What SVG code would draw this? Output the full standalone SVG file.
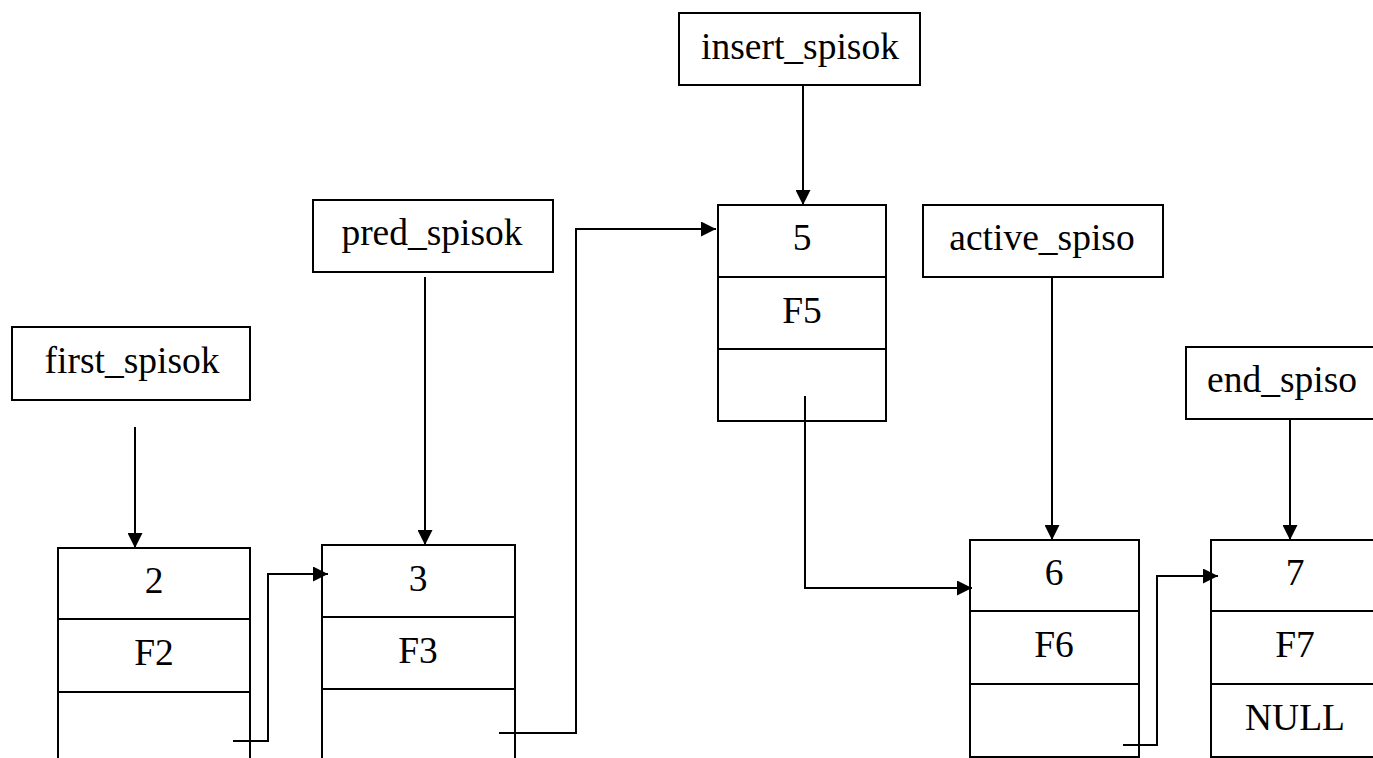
<svg xmlns="http://www.w3.org/2000/svg" width="1373" height="758" viewBox="0 0 1373 758">
<style>
.box{fill:#fff;stroke:#000;stroke-width:2}
.div{stroke:#000;stroke-width:2}
.t{font-family:"Liberation Serif","Times New Roman",serif;font-size:37.5px;fill:#000;text-anchor:middle}
.c{fill:none;stroke:#000;stroke-width:2}
</style>
<defs>
<marker id="ah" markerUnits="userSpaceOnUse" markerWidth="16" markerHeight="15" refX="15" refY="7.5" orient="auto">
<path d="M0,0 L15,7.5 L0,15 z" fill="#000"/>
</marker>
</defs>
<rect width="1373" height="758" fill="#fff"/>
<g id="first_spisok"><rect class="box" x="12" y="327" width="238" height="73"/><text class="t" x="132" y="373">first_spisok</text></g>
<g id="pred_spisok"><rect class="box" x="313" y="200" width="240" height="72"/><text class="t" x="432" y="245">pred_spisok</text></g>
<g id="insert_spisok"><rect class="box" x="679" y="13" width="241" height="72"/><text class="t" x="800" y="59">insert_spisok</text></g>
<g id="active_spiso"><rect class="box" x="923" y="205" width="240" height="72"/><text class="t" x="1042" y="250">active_spiso</text></g>
<g id="end_spiso"><rect class="box" x="1186" y="347" width="194" height="72"/><text class="t" x="1282" y="392">end_spiso</text></g>
<g id="node2"><rect class="box" x="58" y="548" width="192" height="230"/><line class="div" x1="58" y1="619" x2="250" y2="619"/><line class="div" x1="58" y1="692" x2="250" y2="692"/><text class="t" x="154" y="593">2</text><text class="t" x="154" y="665">F2</text></g>
<g id="node3"><rect class="box" x="322" y="545" width="193" height="230"/><line class="div" x1="322" y1="617" x2="515" y2="617"/><line class="div" x1="322" y1="689" x2="515" y2="689"/><text class="t" x="418" y="591">3</text><text class="t" x="418" y="663">F3</text></g>
<g id="node5"><rect class="box" x="718" y="205" width="168" height="216"/><line class="div" x1="718" y1="277" x2="886" y2="277"/><line class="div" x1="718" y1="349" x2="886" y2="349"/><text class="t" x="802" y="250">5</text><text class="t" x="802" y="323">F5</text></g>
<g id="node6"><rect class="box" x="970" y="540" width="169" height="217"/><line class="div" x1="970" y1="611" x2="1139" y2="611"/><line class="div" x1="970" y1="684" x2="1139" y2="684"/><text class="t" x="1054" y="585">6</text><text class="t" x="1054" y="657">F6</text></g>
<g id="node7"><rect class="box" x="1211" y="540" width="169" height="217"/><line class="div" x1="1211" y1="611" x2="1380" y2="611"/><line class="div" x1="1211" y1="684" x2="1380" y2="684"/><text class="t" x="1295" y="585">7</text><text class="t" x="1295" y="657">F7</text><text class="t" x="1295" y="730">NULL</text></g>
<g id="connectors">
<path class="c" d="M135,427 V548" marker-end="url(#ah)"/>
<path class="c" d="M425,277 V545" marker-end="url(#ah)"/>
<path class="c" d="M803,85 V205" marker-end="url(#ah)"/>
<path class="c" d="M1052,277 V540" marker-end="url(#ah)"/>
<path class="c" d="M1290,419 V540" marker-end="url(#ah)"/>
<path class="c" d="M233,741 H268 V574 H328" marker-end="url(#ah)"/>
<path class="c" d="M499,733 H576 V229 H716" marker-end="url(#ah)"/>
<path class="c" d="M805,396 V588 H972" marker-end="url(#ah)"/>
<path class="c" d="M1123,745 H1157 V576 H1218" marker-end="url(#ah)"/>
</g>
</svg>
